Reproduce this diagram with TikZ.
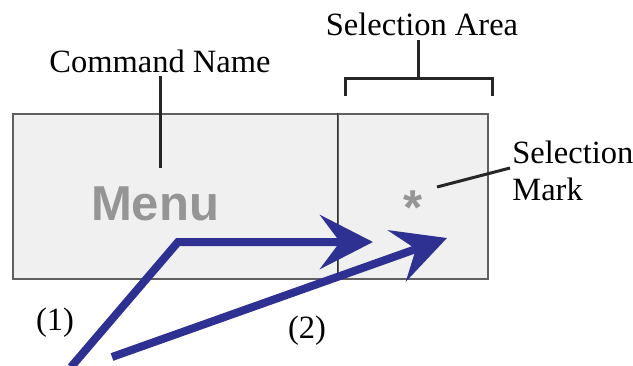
\documentclass[tikz,border=0pt]{standalone}
\usepackage{fontspec}
\setmainfont{Liberation Serif}
\newfontfamily\arialfont{Liberation Sans}
\usetikzlibrary{arrows.meta}
\definecolor{boxfill}{HTML}{F0F0F0}
\definecolor{boxline}{HTML}{606060}
\definecolor{menugray}{HTML}{959595}
\definecolor{arrowblue}{HTML}{2E3192}
\tikzset{
  lbl/.style={font=\fontsize{16.25}{18.5}\selectfont, inner sep=0pt},
  panel/.style={draw=boxline, fill=boxfill, line width=0.75pt, inner sep=0pt, anchor=north west, minimum height=82.5pt},
  menutxt/.style={font=\arialfont\bfseries\fontsize{24.5}{28}\selectfont, text=menugray, inner sep=0pt},
  leader/.style={draw=black!85, line width=1.5pt},
  bigarrow/.style={draw=arrowblue, line width=4pt, -{Stealth[length=26.5pt, width=27pt, inset=10pt]}},
}
\begin{document}
\begin{tikzpicture}[x=0.5pt, y=-0.5pt]
\useasboundingbox (0,0) rectangle (633,365);
% panels
\node[panel, minimum width=162.5pt] (cmd) at (12,113) {};
\node[panel, minimum width=75pt] (sel) at (337,113) {};
\draw[draw=black!80, line width=0.5pt] (sel.north west) -- (sel.south west);
% texts in the panels
\node[menutxt, anchor=base] (menu) at (155,220) {Menu};
\node[menutxt, anchor=base] (star) at (413,224) {*};
% command name label
\node[lbl, anchor=base] (cmdname) at (160,72) {Command Name};
\coordinate (cmdend) at (160,168);
\draw[leader] (160,76) coordinate (cmdtop) -- (cmdend);
% selection area label and bracket
\node[lbl, anchor=base] (selarea) at (422,35) {Selection Area};
\coordinate (brL) at (345,96);
\coordinate (brR) at (492,96);
\coordinate (brC) at (418,78);
\draw[leader] (418,40) coordinate (stemtop) -- (brC);
\draw[leader] (brL) |- (brC) -| (brR);
% selection mark label
\node[lbl, anchor=base west, align=left] (selmark) at (512,200) {Selection\\Mark};
\coordinate (markend) at (437,187);
\draw[leader] (510,168) coordinate (markstart) -- (markend);
% arrows
\coordinate (a1s) at (71,367);
\coordinate (a1c) at (178,242);
\coordinate (a1e) at (373,242);
\coordinate (a2s) at (112,357);
\coordinate (a2e) at (447,238);
\draw[bigarrow] (a1s) -- (a1c) -- (a1e);
\draw[bigarrow] (a2s) -- (a2e);
\node[lbl] (n1) at (55,323) {(1)};
\node[lbl] (n2) at (307,331) {(2)};
\end{tikzpicture}
\end{document}
